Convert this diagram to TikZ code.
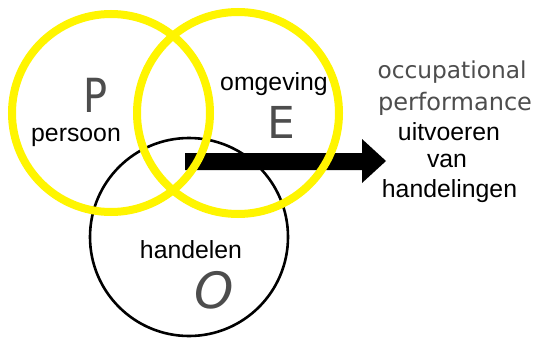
\documentclass[tikz,border=0pt]{standalone}
\usepackage{fontspec}
\setmainfont{Liberation Sans}
\newfontfamily\comicfont{DejaVu Sans}
\definecolor{ringyellow}{RGB}{255,245,0}
\definecolor{lettergray}{RGB}{77,77,77}
\begin{document}
\begin{tikzpicture}[x=1pt,y=-1pt,
  yring/.style={draw=ringyellow,line width=8pt},
  bring/.style={draw=black,line width=2.6pt},
  lbl/.style={inner sep=0pt,font=\fontsize{24.8}{28}\selectfont},
  bigletter/.style={inner sep=0pt,text depth=0pt,text=lettergray,font=\comicfont\fontsize{50}{56}\selectfont},
  comic/.style={inner sep=0pt,text=lettergray,font=\comicfont\fontsize{21}{24}\selectfont}]
\useasboundingbox[fill=white] (0,0) rectangle (537,337);
% circles
\node[bring,circle,minimum size=198pt,inner sep=0pt] (O) at (189,237) {};
\fill[black] (185,153) -- (362,153) -- (362,139) -- (386,161) -- (362,183) -- (362,170) -- (185,170) -- cycle;
\node[yring,circle,minimum size=198pt,inner sep=0pt] (P) at (111,113) {};
\node[yring,circle,minimum size=202pt,inner sep=0pt] (E) at (238,113) {};
% labels
\node[bigletter,xscale=0.85,font=\comicfont\fontsize{47}{52}\selectfont] (Pl) at (96,95) {P};
\node[lbl,text height=13pt] (persoon) at (76,138) {persoon};
\node[lbl] (omgeving) at (274,84) {omgeving};
\node[bigletter,font=\comicfont\fontsize{44}{50}\selectfont] (El) at (281,122) {E};
\node[lbl] (handelen) at (191,250) {handelen};
\node[bigletter,font=\comicfont\itshape\fontsize{50}{56}\selectfont] (Ol) at (214,290) {O};
\node[comic] (occ) at (452,72) {\resizebox{149pt}{!}{occupational}};
\node[comic] (perf) at (455,104) {\resizebox{154pt}{!}{performance}};
\node[lbl] (uitv) at (449,132) {uitvoeren};
\node[lbl] (van) at (447,161) {van};
\node[lbl] (hand) at (449.5,191) {handelingen};
\end{tikzpicture}
\end{document}
